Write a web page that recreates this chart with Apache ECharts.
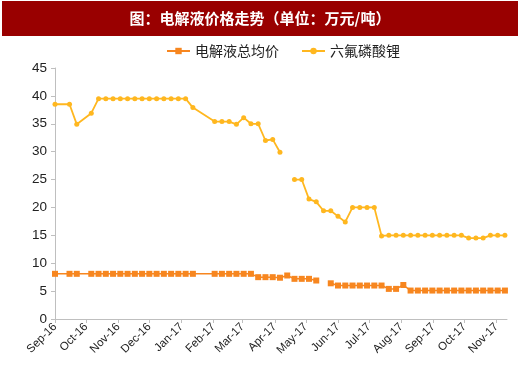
<!DOCTYPE html>
<html>
<head>
<meta charset="utf-8">
<script src="https://cdn.jsdelivr.net/npm/echarts@6/dist/echarts.min.js"></script>
<style>
html,body{margin:0;padding:0;background:#fff;}
#c{width:520px;height:368px;}
</style>
</head>
<body>
<div id="c"></div>
<script>
const titleText = '图：电解液价格走势（单位：万元/吨）';
const seriesNames = ['电解液总均价', '六氟磷酸锂'];
const monthNames = ['Jan','Feb','Mar','Apr','May','Jun','Jul','Aug','Sep','Oct','Nov','Dec'];
const yTicks = {min: 0, max: 45, interval: 5};

const dates = [
  '2016-09-01','2016-09-15','2016-09-22','2016-10-06','2016-10-13','2016-10-20','2016-10-27',
  '2016-11-03','2016-11-10','2016-11-17','2016-11-24','2016-12-01','2016-12-08','2016-12-15',
  '2016-12-22','2016-12-29','2017-01-05','2017-01-12','2017-02-02','2017-02-09','2017-02-16',
  '2017-02-23','2017-03-02','2017-03-09','2017-03-16','2017-03-23','2017-03-30','2017-04-06',
  '2017-04-13','2017-04-20','2017-04-27','2017-05-04','2017-05-11','2017-05-18','2017-05-25',
  '2017-06-01','2017-06-08','2017-06-15','2017-06-22','2017-06-29','2017-07-06','2017-07-13',
  '2017-07-20','2017-07-27','2017-08-03','2017-08-10','2017-08-17','2017-08-24','2017-08-31',
  '2017-09-07','2017-09-14','2017-09-21','2017-09-28','2017-10-05','2017-10-12','2017-10-19',
  '2017-10-26','2017-11-02','2017-11-09'
];

const electrolyte = [
  8.1, 8.1, 8.1, 8.1, 8.1, 8.1, 8.1,
  8.1, 8.1, 8.1, 8.1, 8.1, 8.1, 8.1,
  8.1, 8.1, 8.1, 8.1, 8.1, 8.1, 8.1,
  8.1, 8.1, 8.1, 7.5, 7.5, 7.5, 7.4,
  7.8, 7.2, 7.2, 7.2, 6.9, null, 6.4,
  6.0, 6.0, 6.0, 6.0, 6.0, 6.0, 6.0,
  5.4, 5.4, 6.1, 5.1, 5.1, 5.1, 5.1,
  5.1, 5.1, 5.1, 5.1, 5.1, 5.1, 5.1,
  5.1, 5.1, 5.1
];

const lipf6 = [
  38.5, 38.5, 34.9, 36.9, 39.5, 39.5, 39.5,
  39.5, 39.5, 39.5, 39.5, 39.5, 39.5, 39.5,
  39.5, 39.5, 39.5, 37.9, 35.4, 35.4, 35.4,
  34.9, 36.1, 35.0, 35.0, 32.0, 32.2, 29.9,
  null, 25.0, 25.0, 21.5, 21.0, 19.4, 19.4,
  18.4, 17.4, 20.0, 20.0, 20.0, 20.0, 14.9,
  15.0, 15.0, 15.0, 15.0, 15.0, 15.0, 15.0,
  15.0, 15.0, 15.0, 15.0, 14.5, 14.5, 14.5,
  15.0, 15.0, 15.0
];

const xRange = {min: '2016-09-01', max: '2017-11-11'};

function pairs(vals) {
  return dates.map((d, i) => [d, vals[i] == null ? '-' : vals[i]]);
}

const chart = echarts.init(document.getElementById('c'), null, {renderer: 'canvas'});
const DAY = 86400000;
chart.setOption({
  animation: false,
  backgroundColor: '#ffffff',
  graphic: [
    {type: 'rect', shape: {x: 2, y: 1, width: 516, height: 35}, style: {fill: '#990000'}, z: 0},
    {type: 'text', x: 260, y: 18.5, style: {text: titleText, fill: '#ffffff', font: 'bold 15px "Noto Sans CJK SC"', align: 'center', verticalAlign: 'middle'}, z: 1}
  ],
  legend: {
    left: 161, top: 39,
    itemWidth: 23, itemHeight: 8, itemGap: 22,
    textStyle: {fontSize: 14, color: '#222', fontFamily: '"Noto Sans CJK SC"'},
    data: seriesNames
  },
  grid: {left: 55, right: 13, top: 68, bottom: 49, containLabel: false},
  xAxis: {
    type: 'time',
    min: xRange.min, max: xRange.max,
    splitNumber: 14,
    minInterval: 28 * DAY,
    maxInterval: 31 * DAY,
    axisLine: {show: true, lineStyle: {color: '#bfbfbf', width: 1}},
    axisTick: {show: true, length: 4, lineStyle: {color: '#bfbfbf'}},
    splitLine: {show: false},
    axisLabel: {
      rotate: 45, fontSize: 11.5, color: '#222', fontFamily: 'Liberation Sans, Arial', margin: 6,
      formatter: function (v) {
        const d = new Date(v);
        return monthNames[d.getMonth()] + '-' + String(d.getFullYear()).slice(2);
      }
    }
  },
  yAxis: {
    type: 'value',
    min: yTicks.min, max: yTicks.max, interval: yTicks.interval,
    axisLine: {show: true, lineStyle: {color: '#bfbfbf', width: 1}},
    axisTick: {show: true, length: 4, lineStyle: {color: '#bfbfbf'}},
    splitLine: {show: false},
    axisLabel: {fontSize: 13.5, color: '#222', fontFamily: 'Liberation Sans, Arial', margin: 8}
  },
  series: [
    {
      name: seriesNames[0], type: 'line', data: pairs(electrolyte),
      symbol: 'rect', symbolSize: 6, showAllSymbol: true,
      lineStyle: {color: '#F7861F', width: 1.5},
      itemStyle: {color: '#F7861F'}
    },
    {
      name: seriesNames[1], type: 'line', data: pairs(lipf6),
      symbol: 'circle', symbolSize: 5, showAllSymbol: true,
      lineStyle: {color: '#FFB71F', width: 1.8},
      itemStyle: {color: '#FFB71F'}
    }
  ]
});
</script>
</body>
</html>
